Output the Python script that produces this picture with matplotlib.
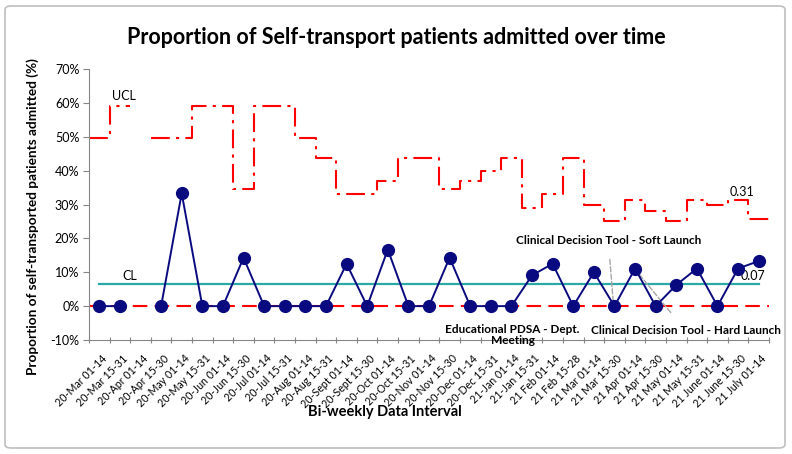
import numpy as np
import matplotlib
matplotlib.use("Agg")
import matplotlib.pyplot as plt
from matplotlib.ticker import FuncFormatter, FixedLocator
from matplotlib.patches import FancyBboxPatch
from matplotlib.transforms import ScaledTranslation

plt.rcParams['font.family'] = ['Lato', 'DejaVu Sans']

categories = ["20-Mar 01-14", "20-Mar 15-31", "20-Apr 01-14", "20-Apr 15-30", "20-May 01-14",
              "20-May 15-31", "20-Jun 01-14", "20-Jun 15-30", "20-Jul 01-14", "20-Jul 15-31",
              "20-Aug 01-14", "20-Aug 15-31", "20-Sept 01-14", "20-Sept 15-30", "20-Oct 01-14",
              "20-Oct 15-31", "20-Nov 01-14", "20-Nov 15-30", "20-Dec 01-14", "20-Dec 15-31",
              "21-Jan 01-14", "21-Jan 15-31", "21 Feb 01-14", "21 Feb 15-28", "21 Mar 01-14",
              "21 Mar 15-30", "21 Apr 01-14", "21 Apr 15-30", "21 May 01-14", "21 May 15-31",
              "21 June 01-14", "21 June 15-30", "21 July 01-14"]

proportion = [0, 0, np.nan, 0, 33.3, 0, 0, 14.3, 0, 0, 0, 0, 12.5, 0, 16.7, 0, 0, 14.3,
              0, 0, 0, 9.1, 12.5, 0, 10.0, 0, 11.1, 0, 6.25, 11.1, 0, 11.1, 13.3]

ucl = [49.5, 59.0, np.nan, 49.5, 49.5, 59.0, 59.0, 34.6, 59.0, 59.0, 49.5, 43.6, 33.0, 33.0,
       36.8, 43.6, 43.6, 34.6, 36.8, 39.8, 43.6, 29.1, 33.0, 43.6, 30.0, 25.0, 31.4, 28.0,
       25.0, 31.4, 30.0, 31.4, 25.8]

lcl = [0.0] * len(categories)
cl = 6.6

n = len(categories)
x = np.arange(n)

fig = plt.figure(figsize=(7.92, 4.54), dpi=100)
ax = fig.add_axes([89/792, 1 - 340/454, (769-89)/792, (340-69)/454])

# figure border
fig.patches.append(FancyBboxPatch((5/792, 6/454), 780/792, 442/454,
                                  boxstyle="round,pad=0,rounding_size=0.008",
                                  transform=fig.transFigure, fill=False,
                                  edgecolor="#BFBFBF", linewidth=1.2))

def step_xy(vals):
    xs, ys = [], []
    for i, v in enumerate(vals):
        xs += [i - 0.5, i + 0.5]
        ys += [v, v]
    return xs, ys

ux, uy = step_xy(ucl)
ax.plot(ux, uy, color="#FF0000", lw=1.5, dashes=(9, 3, 1.5, 3), zorder=2)
lx, ly = step_xy(lcl)
ax.plot(lx, ly, color="#FF0000", lw=1.5, dashes=(7, 3.5), zorder=2)
ax.plot(x, [cl] * n, color="#2BA9A6", lw=1.6, zorder=3)
ax.plot(x, proportion, color="#0A0A80", lw=1.4, marker="o", markersize=8.5,
        markerfacecolor="#0A0A80", markeredgecolor="#0A0A80", zorder=4)

ax.set_xlim(-0.5, n - 0.5)
ax.set_ylim(-10, 70)
ax.set_yticks(np.arange(-10, 71, 10))
ax.yaxis.set_major_formatter(FuncFormatter(lambda v, p: f"{v:.0f}%"))
ax.tick_params(axis='y', labelsize=9, length=4, color="#868686", pad=3)

ax.xaxis.set_major_locator(FixedLocator(np.arange(-0.5, n, 1.0)))
ax.xaxis.set_minor_locator(FixedLocator(x))
ax.set_xticklabels([], minor=False)
ax.set_xticklabels(categories, minor=True, rotation=45, ha='right', va='center',
                   rotation_mode='anchor', fontsize=7.7)
ax.tick_params(axis='x', which='major', length=4, direction='inout', color="#868686")
ax.tick_params(axis='x', which='minor', length=0, pad=12)
shift = ScaledTranslation(6/100, 0, fig.dpi_scale_trans)
for lab in ax.xaxis.get_minorticklabels():
    lab.set_transform(lab.get_transform() + shift)

for s in ['top', 'right']:
    ax.spines[s].set_visible(False)
for s in ['left', 'bottom']:
    ax.spines[s].set_color("#868686")

fig.text(396/792, 1 - 38/454, "Proportion of Self-transport patients admitted over time",
         ha='center', va='center', fontsize=15.5, fontweight='bold')
fig.text(33/792, 1 - 217/454, "Proportion of self-transported patients admitted (%)",
         ha='center', va='center', rotation=90, fontsize=9.8, fontweight='bold')
fig.text(385/792, 1 - 412/454, "Bi-weekly Data Interval", ha='center', va='center',
         fontsize=10.5, fontweight='bold')

ax.text(1.2, 62.0, "UCL", fontsize=9, ha='center', va='center')
ax.text(1.5, 9.0, "CL", fontsize=9, ha='center', va='center')
ax.text(31.2, 33.6, "0.31", fontsize=9, ha='center', va='center')
ax.text(31.7, 8.8, "0.07", fontsize=9, ha='center', va='center')

ann_kw = dict(fontsize=8.5, fontweight='bold', ha='center', va='center')
ax.annotate("Clinical Decision Tool - Soft Launch", xy=(24.95, 0.6), xytext=(24.7, 19.5),
            arrowprops=dict(arrowstyle='-', color='#A6A6A6', ls='--', lw=1,
                            shrinkA=8, shrinkB=0), **ann_kw)
ax.annotate("Clinical Decision Tool - Hard Launch", xy=(26.05, 10.5), xytext=(28.45, -7.2),
            arrowprops=dict(arrowstyle='-', color='#A6A6A6', ls='--', lw=1,
                            shrinkA=9, shrinkB=0), **ann_kw)
ax.text(20.05, -8.5, "Educational PDSA - Dept.\nMeeting", linespacing=1.05, **ann_kw)

fig.savefig("out.png", dpi=100)
